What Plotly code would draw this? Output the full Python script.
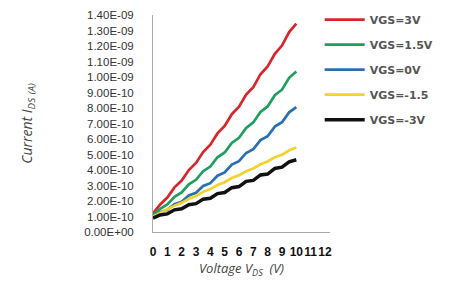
import plotly.graph_objects as go

# Drain voltage (V)
vds = [0, 0.5, 1, 1.5, 2, 2.5, 3, 3.5, 4, 4.5, 5, 5.5, 6, 6.5, 7, 7.5, 8, 8.5, 9, 9.5, 10]

# Currents in units of 1e-10 A
i_vgs_3 = [1.2, 1.78, 2.22, 2.88, 3.32, 4.0, 4.46, 5.16, 5.63, 6.36, 6.84, 7.6, 8.08, 8.87, 9.35, 10.18, 10.68, 11.5, 12.03, 12.9, 13.45]
i_vgs_15 = [1.1, 1.5, 1.78, 2.27, 2.55, 3.08, 3.37, 3.92, 4.22, 4.82, 5.13, 5.75, 6.08, 6.72, 7.07, 7.75, 8.1, 8.82, 9.18, 9.95, 10.35]
i_vgs_0 = [1.0, 1.28, 1.44, 1.8, 1.95, 2.36, 2.53, 2.97, 3.15, 3.63, 3.84, 4.35, 4.57, 5.1, 5.35, 5.93, 6.18, 6.8, 7.08, 7.72, 8.05]
i_vgs_m15 = [1.0, 1.24, 1.44, 1.7, 1.88, 2.14, 2.32, 2.59, 2.77, 3.03, 3.21, 3.48, 3.66, 3.92, 4.1, 4.37, 4.55, 4.82, 4.98, 5.27, 5.45]
i_vgs_m3 = [0.9, 1.1, 1.17, 1.43, 1.5, 1.76, 1.83, 2.12, 2.18, 2.48, 2.55, 2.86, 2.93, 3.27, 3.33, 3.68, 3.74, 4.1, 4.18, 4.52, 4.66]
scale = 1e-10

series_names = ["VGS=3V", "VGS=1.5V", "VGS=0V", "VGS=-1.5", "VGS=-3V"]
series_vals = [i_vgs_3, i_vgs_15, i_vgs_0, i_vgs_m15, i_vgs_m3]
series_colors = ["#d8262c", "#1f9e62", "#2a6fb0", "#f3d22e", "#111111"]
series_widths = [2.7, 2.7, 2.7, 2.7, 3.5]

y_tickvals = [i * 1e-10 for i in range(15)]
y_ticktext = ["0.00E+00", "1.00E-10", "2.00E-10", "3.00E-10", "4.00E-10", "5.00E-10",
              "6.00E-10", "7.00E-10", "8.00E-10", "9.00E-10", "1.00E-09", "1.10E-09",
              "1.20E-09", "1.30E-09", "1.40E-09"]
x_tickvals = list(range(13))

fig = go.Figure()
for k, (name, vals, col, w) in enumerate(zip(series_names, series_vals, series_colors, series_widths)):
    fig.add_trace(go.Scatter(
        x=vds, y=[v * scale for v in vals], mode="lines", name=name,
        legendgroup=f"g{k}",
        line=dict(color=col, width=w),
    ))

fig.update_layout(
    width=449, height=285,
    margin=dict(l=153, r=119, t=15, b=53, autoexpand=False),
    paper_bgcolor="white", plot_bgcolor="white",
    showlegend=True,
    legend=dict(
        xref="container", yref="container",
        x=0.712, y=0.982, xanchor="left", yanchor="top",
        font=dict(family="DejaVu Sans", size=11, color="#555555", weight="bold"),
        tracegroupgap=6, bgcolor="rgba(0,0,0,0)", itemwidth=40,
    ),
    xaxis=dict(
        range=[0, 12.35], tickvals=x_tickvals, showgrid=False, zeroline=False,
        showline=True, linecolor="#aaaaaa", linewidth=1, ticks="",
        ticklabelstandoff=9, tickangle=0, automargin=False,
        tickfont=dict(family="Liberation Sans", size=12, color="#111111", weight="bold"),
        title=dict(text="Voltage V<sub>DS</sub>  (V)", standoff=5,
                   font=dict(family="Open Sans", size=13, color="#444444", style="italic")),
    ),
    yaxis=dict(
        range=[0, 1.4e-9], tickvals=y_tickvals, ticktext=y_ticktext,
        showgrid=False, zeroline=False, showline=True, linecolor="#aaaaaa",
        linewidth=1, ticks="", ticklabelstandoff=16, automargin=False,
        tickfont=dict(family="Liberation Sans", size=11.5, color="#333333"),
        title=dict(text="Current I<sub>DS</sub> <sub>(A)</sub>", standoff=48,
                   font=dict(family="Open Sans", size=14, color="#444444", style="italic")),
    ),
)

fig.write_html("out.html", config={"displayModeBar": False},
               post_script="document.body.style.margin='0';")
